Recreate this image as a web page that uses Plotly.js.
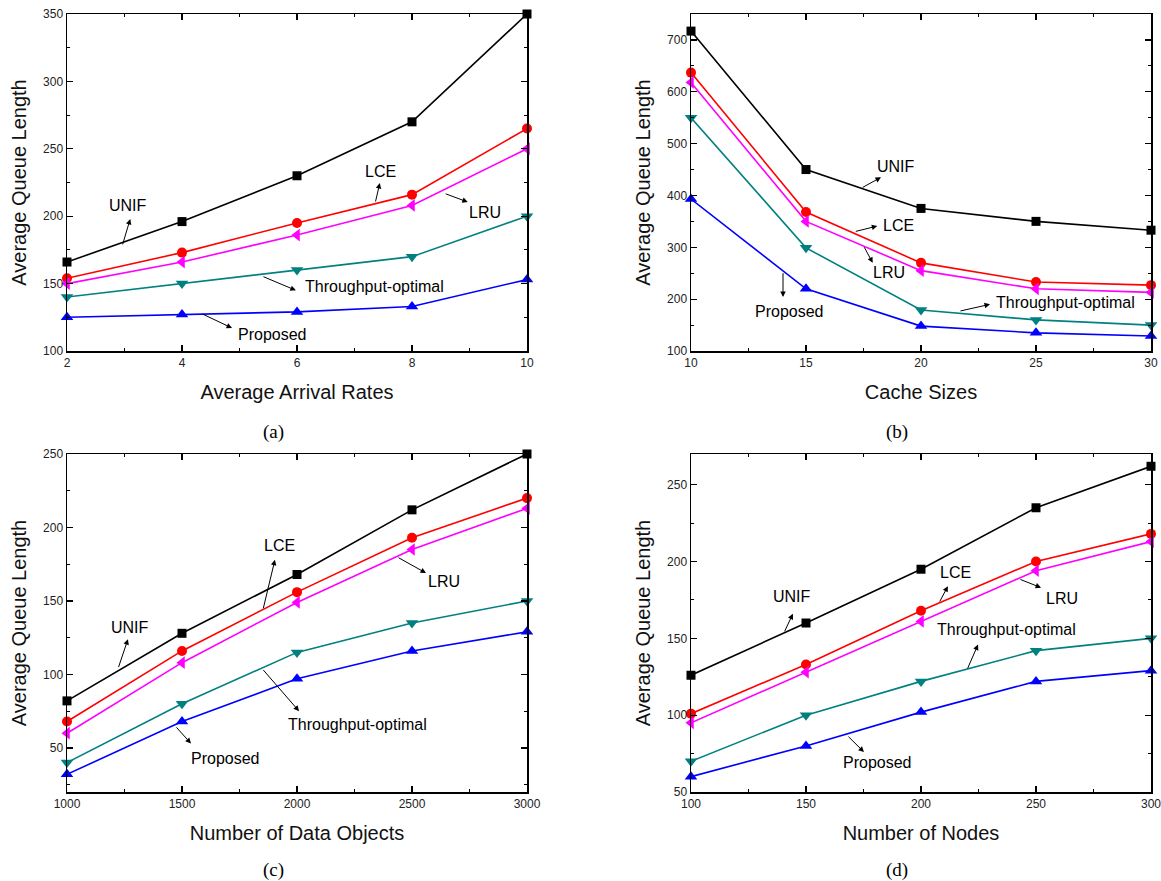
<!DOCTYPE html>
<html>
<head>
<meta charset="utf-8">
<script src="https://cdn.plot.ly/plotly-3.0.1.min.js"></script>
<style>html,body{margin:0;padding:0;background:#fff;}#chart{width:1161px;height:881px;}</style>
</head>
<body>
<div id="chart"></div>
<script>
// ---------- data ----------
const seriesNames = ["UNIF", "LCE", "LRU", "Throughput-optimal", "Proposed"];

// (a) Average Arrival Rates
const arrivalRates = [2, 4, 6, 8, 10];
const unifA = [166, 196, 230, 270, 350];
const lceA = [154, 173, 195, 216, 265];
const lruA = [150, 166, 186, 208, 250];
const tputA = [140, 150, 160, 170, 200];
const propA = [125, 127, 129, 133, 153];

// (b) Cache Sizes
const cacheSizes = [10, 15, 20, 25, 30];
const unifB = [717, 450, 375, 350, 333];
const lceB = [637, 368, 270, 233, 227];
const lruB = [618, 350, 255, 220, 213];
const tputB = [550, 299, 179, 160, 150];
const propB = [393, 220, 148, 135, 129];

// (c) Number of Data Objects
const dataObjects = [1000, 1500, 2000, 2500, 3000];
const unifC = [82, 128, 168, 212, 250];
const lceC = [68, 116, 156, 193, 220];
const lruC = [60, 108, 149, 185, 213];
const tputC = [40, 80, 115, 135, 150];
const propC = [32, 68, 97, 116, 129];

// (d) Number of Nodes
const numNodes = [100, 150, 200, 250, 300];
const unifD = [126, 160, 195, 235, 262];
const lceD = [101, 133, 168, 200, 218];
const lruD = [95, 128, 161, 194, 213];
const tputD = [70, 100, 122, 142, 150];
const propD = [60, 80, 102, 122, 129];

const xTitles = ["Average Arrival Rates", "Cache Sizes", "Number of Data Objects", "Number of Nodes"];
const yTitle = "Average Queue Length";
const captions = ["(a)", "(b)", "(c)", "(d)"];

// ---------- styles ----------
const colors = ["#000000", "#ff0000", "#ff00ff", "#008080", "#0000ff"];
const symbols = ["square", "circle", "triangle-left", "triangle-down", "triangle-up"];
const msizes = [9, 10, 11, 11, 11];

const panels = [
  {x: arrivalRates, ys: [unifA, lceA, lruA, tputA, propA], xa: "x", ya: "y"},
  {x: cacheSizes, ys: [unifB, lceB, lruB, tputB, propB], xa: "x2", ya: "y2"},
  {x: dataObjects, ys: [unifC, lceC, lruC, tputC, propC], xa: "x3", ya: "y3"},
  {x: numNodes, ys: [unifD, lceD, lruD, tputD, propD], xa: "x4", ya: "y4"}
];

const traces = [];
panels.forEach(p => {
  p.ys.forEach((y, i) => {
    traces.push({
      x: p.x, y: y, xaxis: p.xa, yaxis: p.ya,
      type: "scatter", mode: "lines+markers", name: seriesNames[i],
      showlegend: false, cliponaxis: false,
      line: {color: colors[i], width: 1.6},
      marker: {color: colors[i], symbol: symbols[i], size: msizes[i]}
    });
  });
});

const tickFont = {family: "Liberation Sans, Arial, sans-serif", size: 12, color: "#222"};
const titleFont = {family: "Liberation Sans, Arial, sans-serif", size: 20, color: "#111"};

function xAxis(domain, range, dtick, minor, title, anchor) {
  return {
    domain: domain, range: range, dtick: dtick, tick0: 0, anchor: anchor,
    showline: true, linecolor: "#000", linewidth: 1.5, mirror: "ticks",
    ticks: "inside", ticklen: 6, tickwidth: 1.2, tickcolor: "#000",
    minor: {dtick: minor, ticks: "inside", ticklen: 3, tickwidth: 1, tickcolor: "#000", showgrid: false},
    showgrid: false, zeroline: false, tickfont: tickFont, ticklabeloverflow: "allow",
    title: {text: title, font: titleFont, standoff: 16}
  };
}
function yAxis(domain, range, dtick, minor, anchor) {
  return {
    domain: domain, range: range, dtick: dtick, tick0: 0, anchor: anchor,
    showline: true, linecolor: "#000", linewidth: 1.5, mirror: "ticks",
    ticks: "inside", ticklen: 6, tickwidth: 1.2, tickcolor: "#000",
    minor: {dtick: minor, ticks: "inside", ticklen: 3, tickwidth: 1, tickcolor: "#000", showgrid: false},
    showgrid: false, zeroline: false, tickfont: tickFont, ticklabeloverflow: "allow",
    title: {text: yTitle, font: titleFont, standoff: 11}
  };
}

const W = 1161, H = 881;
const dxL = [67 / W, 527 / W], dxR = [691 / W, 1151 / W];
const dyT = [1 - 351 / H, 1 - 14 / H], dyB = [1 - 792 / H, 1 - 454 / H];

// annotations: [xref, yref, text, textX, textY, tailX, tailY, headX, headY]
const notes = [
  // (a)
  ["x", "y", "UNIF", 3.06, 207.6, 2.96, 178, 3.1, 198],
  ["x", "y", "LCE", 7.46, 233.5, 7.36, 209.8, 7.44, 224.6],
  ["x", "y", "LRU", 9.27, 203, 8.56, 217, 8.97, 210.5],
  ["x", "y", "Throughput-optimal", 7.34, 147.5, 5.39, 155.6, 5.98, 145],
  ["x", "y", "Proposed", 5.57, 112, 4.33, 128, 4.87, 117],
  // (b)
  ["x2", "y2", "UNIF", 18.9, 456, 17.4, 414, 18.26, 435],
  ["x2", "y2", "LCE", 19.0, 343, 17.1, 330, 18.1, 341],
  ["x2", "y2", "LRU", 18.6, 251, 17.5, 303, 17.9, 270],
  ["x2", "y2", "Throughput-optimal", 26.3, 194, 21.65, 176.6, 23.0, 190],
  ["x2", "y2", "Proposed", 14.3, 177, 14.0, 253, 14.0, 204],
  // (c)
  ["x3", "y3", "UNIF", 1274, 132, 1222, 104, 1265, 124],
  ["x3", "y3", "LCE", 1922, 188, 1852, 144, 1904, 178],
  ["x3", "y3", "LRU", 2639, 163, 2435, 180, 2561, 169],
  ["x3", "y3", "Throughput-optimal", 2261, 66, 1848, 104, 2009, 75],
  ["x3", "y3", "Proposed", 1687, 43, 1470, 65, 1539, 53],
  // (d)
  ["x4", "y4", "UNIF", 144, 177, 140.4, 153.6, 144.3, 166],
  ["x4", "y4", "LCE", 214.8, 192.7, 207.8, 173, 211.7, 184],
  ["x4", "y4", "LRU", 261.3, 176, 242.6, 188.7, 252.2, 183],
  ["x4", "y4", "Throughput-optimal", 237, 156, 220, 129.5, 224.8, 146],
  ["x4", "y4", "Proposed", 180.9, 69, 167.8, 87, 175.2, 76]
];

const annotations = [];
notes.forEach(n => {
  annotations.push({
    xref: n[0], yref: n[1], x: n[3], y: n[4], text: n[2], showarrow: false,
    font: {family: "Liberation Sans, Arial, sans-serif", size: 16, color: "#000"}
  });
  annotations.push({
    xref: n[0], yref: n[1], axref: n[0], ayref: n[1],
    x: n[7], y: n[8], ax: n[5], ay: n[6], text: "", showarrow: true,
    arrowhead: 2, arrowsize: 1.1, arrowwidth: 1, arrowcolor: "#000"
  });
});
const capPos = [[273, 432], [897, 432], [273, 870], [897, 870]];
captions.forEach((c, i) => {
  annotations.push({
    xref: "paper", yref: "paper", x: capPos[i][0] / W, y: 1 - capPos[i][1] / H,
    text: c, showarrow: false, xanchor: "center", yanchor: "middle",
    font: {family: "Liberation Serif, Times New Roman, serif", size: 19, color: "#000"}
  });
});

const layout = {
  width: W, height: H,
  margin: {l: 0, r: 0, t: 0, b: 0},
  paper_bgcolor: "#fff", plot_bgcolor: "#fff",
  showlegend: false,
  xaxis: xAxis(dxL, [2, 10], 2, 1, xTitles[0], "y"),
  yaxis: yAxis(dyT, [100, 350], 50, 25, "x"),
  xaxis2: xAxis(dxR, [10, 30], 5, 2.5, xTitles[1], "y2"),
  yaxis2: yAxis(dyT, [100, 750], 100, 50, "x2"),
  xaxis3: xAxis(dxL, [1000, 3000], 500, 250, xTitles[2], "y3"),
  yaxis3: yAxis(dyB, [20, 250], 50, 25, "x3"),
  xaxis4: xAxis(dxR, [100, 300], 50, 25, xTitles[3], "y4"),
  yaxis4: yAxis(dyB, [50, 270], 50, 25, "x4"),
  annotations: annotations
};

Plotly.newPlot("chart", traces, layout, {displayModeBar: false, staticPlot: true});
</script>
</body>
</html>
